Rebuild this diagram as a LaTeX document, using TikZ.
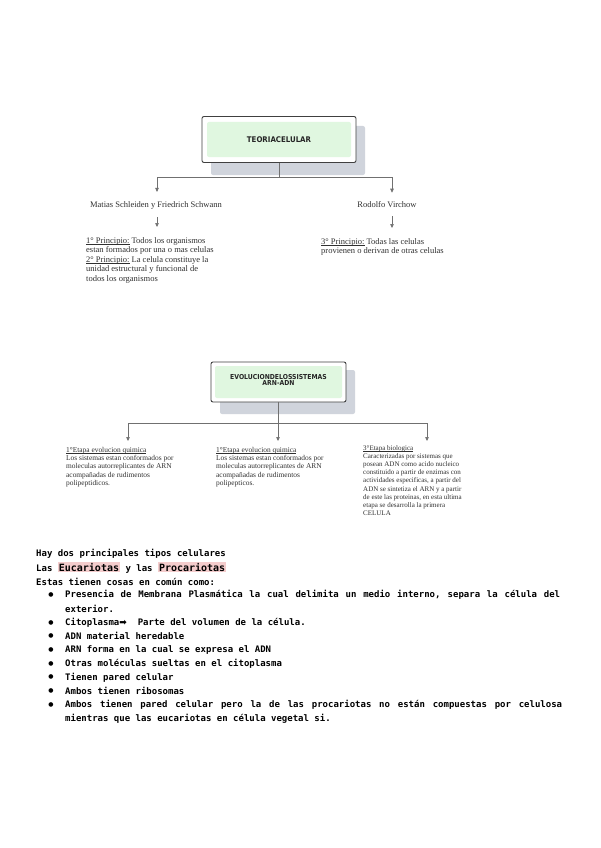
\documentclass[tikz,border=0pt]{standalone}
\usepackage{fontspec}
\setmainfont{Liberation Serif}
\newfontfamily\mono{DejaVu Sans Mono}
\newfontfamily\cond{DejaVu Sans Condensed}
\newfontfamily\sym{DejaVu Sans}
\usetikzlibrary{arrows.meta}
\definecolor{boxgreen}{HTML}{E0F7E0}
\definecolor{shadowgray}{HTML}{D0D4DC}
\definecolor{hlpink}{HTML}{F4CCCC}
\definecolor{linegray}{HTML}{707070}
\definecolor{txtgray}{HTML}{303030}
\newcommand\monofnt{\mono\bfseries\fontsize{9}{11}\selectfont\spaceskip=5.42pt plus 30pt\relax}
\newcommand\ulx[1]{\leavevmode\setbox0\hbox{#1}\rlap{\rule[-1.3pt]{\wd0}{0.5pt}}\box0\relax}
\tikzset{
  outerbox/.style={draw=black!75, line width=0.9pt, rounded corners=2pt, fill=white, inner sep=0pt},
  shadowbox/.style={fill=shadowgray, rounded corners=2pt},
  innerbox/.style={fill=boxgreen, rounded corners=2pt},
  titletxt/.style={font=\cond\bfseries\fontsize{7.8}{7.8}\selectfont, text=black!85, align=center, inner sep=0pt},
  conn/.style={draw=linegray, line width=0.6pt},
  arr/.style={conn, -{Triangle[length=4pt,width=3.5pt]}},
  namet/.style={font=\fontsize{8.5}{10}\selectfont, text=txtgray, inner sep=1pt},
  ptxt/.style={font=\fontsize{8.5}{9.6}\selectfont, text=txtgray, align=left, anchor=north west, inner sep=0pt},
  stxt/.style={font=\fontsize{7.4}{8.3}\selectfont, text=txtgray, align=left, anchor=north west, inner sep=0pt},
  mtxt/.style={font=\monofnt, anchor=west, inner sep=0pt},
  bul/.style={font=\sym\fontsize{6}{6}\selectfont, inner sep=0pt},
}
\begin{document}
\begin{tikzpicture}[x=1pt,y=-1pt]
\useasboundingbox (0,0) rectangle (600,848);
\fill[white] (0,0) rectangle (600,848);

% ---------- Teoria celular ----------
\fill[shadowbox] (211,126) rectangle (365,175);
\node[outerbox, minimum width=154pt, minimum height=46pt] (t1) at (279,139.5) {};
\fill[innerbox] (207,122) rectangle (351,157);
\node[titletxt] (t1t) at (279,140) {TEORIACELULAR};

\coordinate (j1) at (t1.south |- 0,177);
\node[namet] (n1) at (156,205) {Matias Schleiden y Friedrich Schwann};
\node[namet] (n2) at (387,205) {Rodolfo Virchow};
\draw[conn] (t1.south) -- (j1);
\draw[arr, shorten >=8pt] (j1) -| (n1.north -| 157,0);
\draw[arr, shorten >=8pt] (j1) -| (n2.north -| 392,0);

\node[ptxt] (p1) at (86,237) {\ulx{1° Principio:} Todos los organismos\\
estan formados por una o mas celulas\\
\ulx{2° Principio:} La celula constituye la\\
unidad estructural y funcional de\\
todos los organismos};
\node[ptxt] (p2) at (321,238) {\ulx{3° Principio:} Todas las celulas\\
provienen o derivan de otras celulas};
\draw[arr, shorten <=7pt, shorten >=10pt] (n1.south -| 157,0) -- (p1.north -| 157,0);
\draw[arr, shorten <=7pt, shorten >=10pt] (n2.south -| 392,0) -- (p2.north -| 392,0);

% ---------- Evolucion de los sistemas ----------
\fill[shadowbox] (220,370) rectangle (355,414);
\node[outerbox, minimum width=135pt, minimum height=40pt] (e1) at (278.5,382) {};
\fill[innerbox] (215,366) rectangle (342,398);
\node[titletxt, font=\cond\bfseries\fontsize{6.8}{6.9}\selectfont] (e1t) at (278.5,380) {EVOLUCIONDELOSSISTEMAS\\ARN-ADN};

\coordinate (j2) at (278,423);
\draw[conn] (e1.south -| 278,0) -- (j2);

\node[stxt] (s1) at (66,447) {\ulx{1°Etapa evolucion quimica}\\
Los sistemas estan conformados por\\
moleculas autorreplicantes de ARN\\
acompañadas de rudimentos\\
polipeptidicos.};
\node[stxt] (s2) at (216,447) {\ulx{1°Etapa evolucion quimica}\\
Los sistemas estan conformados por\\
moleculas autorreplicantes de ARN\\
acompañadas de rudimentos\\
polipepticos.};
\node[stxt, font=\fontsize{7}{8.2}\selectfont] (s3) at (363,445) {\ulx{3°Etapa biologica}\\
Caracterizadas por sistemas que\\
posean ADN como acido nucleico\\
constituido a partir de enzimas con\\
actividades especificas, a partir del\\
ADN se sintetiza el ARN y a partir\\
de este las proteinas, en esta ultima\\
etapa se desarrolla la primera\\
CELULA};

\draw[arr, shorten >=6pt] (j2) -| (s1.north west -| 128,0);
\draw[arr, shorten >=6pt] (j2) -- (s2.north -| 278,0);
\draw[arr, shorten >=4pt] (j2) -| (s3.north -| 427,0);

% ---------- Texto inferior ----------
\node[mtxt] (l1) at (36,554) {Hay dos principales tipos celulares};
\node[mtxt] (l2) at (36,567.7) {Las \fboxsep=1pt\colorbox{hlpink}{\fontsize{10}{11}\selectfont Eucariotas} y las \colorbox{hlpink}{\fontsize{10}{11}\selectfont Procariotas}};
\node[mtxt] (l3) at (36,581.4) {Estas tienen cosas en común como:};

\node[bul] (b1) at (51,595.1) {●};
\node[mtxt] (l4) at (65,595.1) {\makebox[495pt][s]{Presencia de Membrana Plasmática la cual delimita un medio interno, separa la célula del}};
\node[mtxt] (l5) at (65,608.8) {exterior.};
\node[bul] (b2) at (51,622.5) {●};
\node[mtxt] (l6) at (65,622.5) {Citoplasma{\sym ➡}\ \ Parte del volumen de la célula.};
\node[bul] (b3) at (51,636.2) {●};
\node[mtxt] (l7) at (65,636.2) {ADN material heredable};
\node[bul] (b4) at (51,649.9) {●};
\node[mtxt] (l8) at (65,649.9) {ARN forma en la cual se expresa el ADN};
\node[bul] (b5) at (51,663.6) {●};
\node[mtxt] (l9) at (65,663.6) {Otras moléculas sueltas en el citoplasma};
\node[bul] (b6) at (51,677.3) {●};
\node[mtxt] (l10) at (65,677.3) {Tienen pared celular};
\node[bul] (b7) at (51,691) {●};
\node[mtxt] (l11) at (65,691) {Ambos tienen ribosomas};
\node[bul] (b8) at (51,704.7) {●};
\node[mtxt] (l12) at (65,704.7) {\makebox[497pt][s]{Ambos tienen pared celular pero la de las procariotas no están compuestas por celulosa}};
\node[mtxt] (l13) at (65,718.4) {mientras que las eucariotas en célula vegetal si.};
\end{tikzpicture}
\end{document}
